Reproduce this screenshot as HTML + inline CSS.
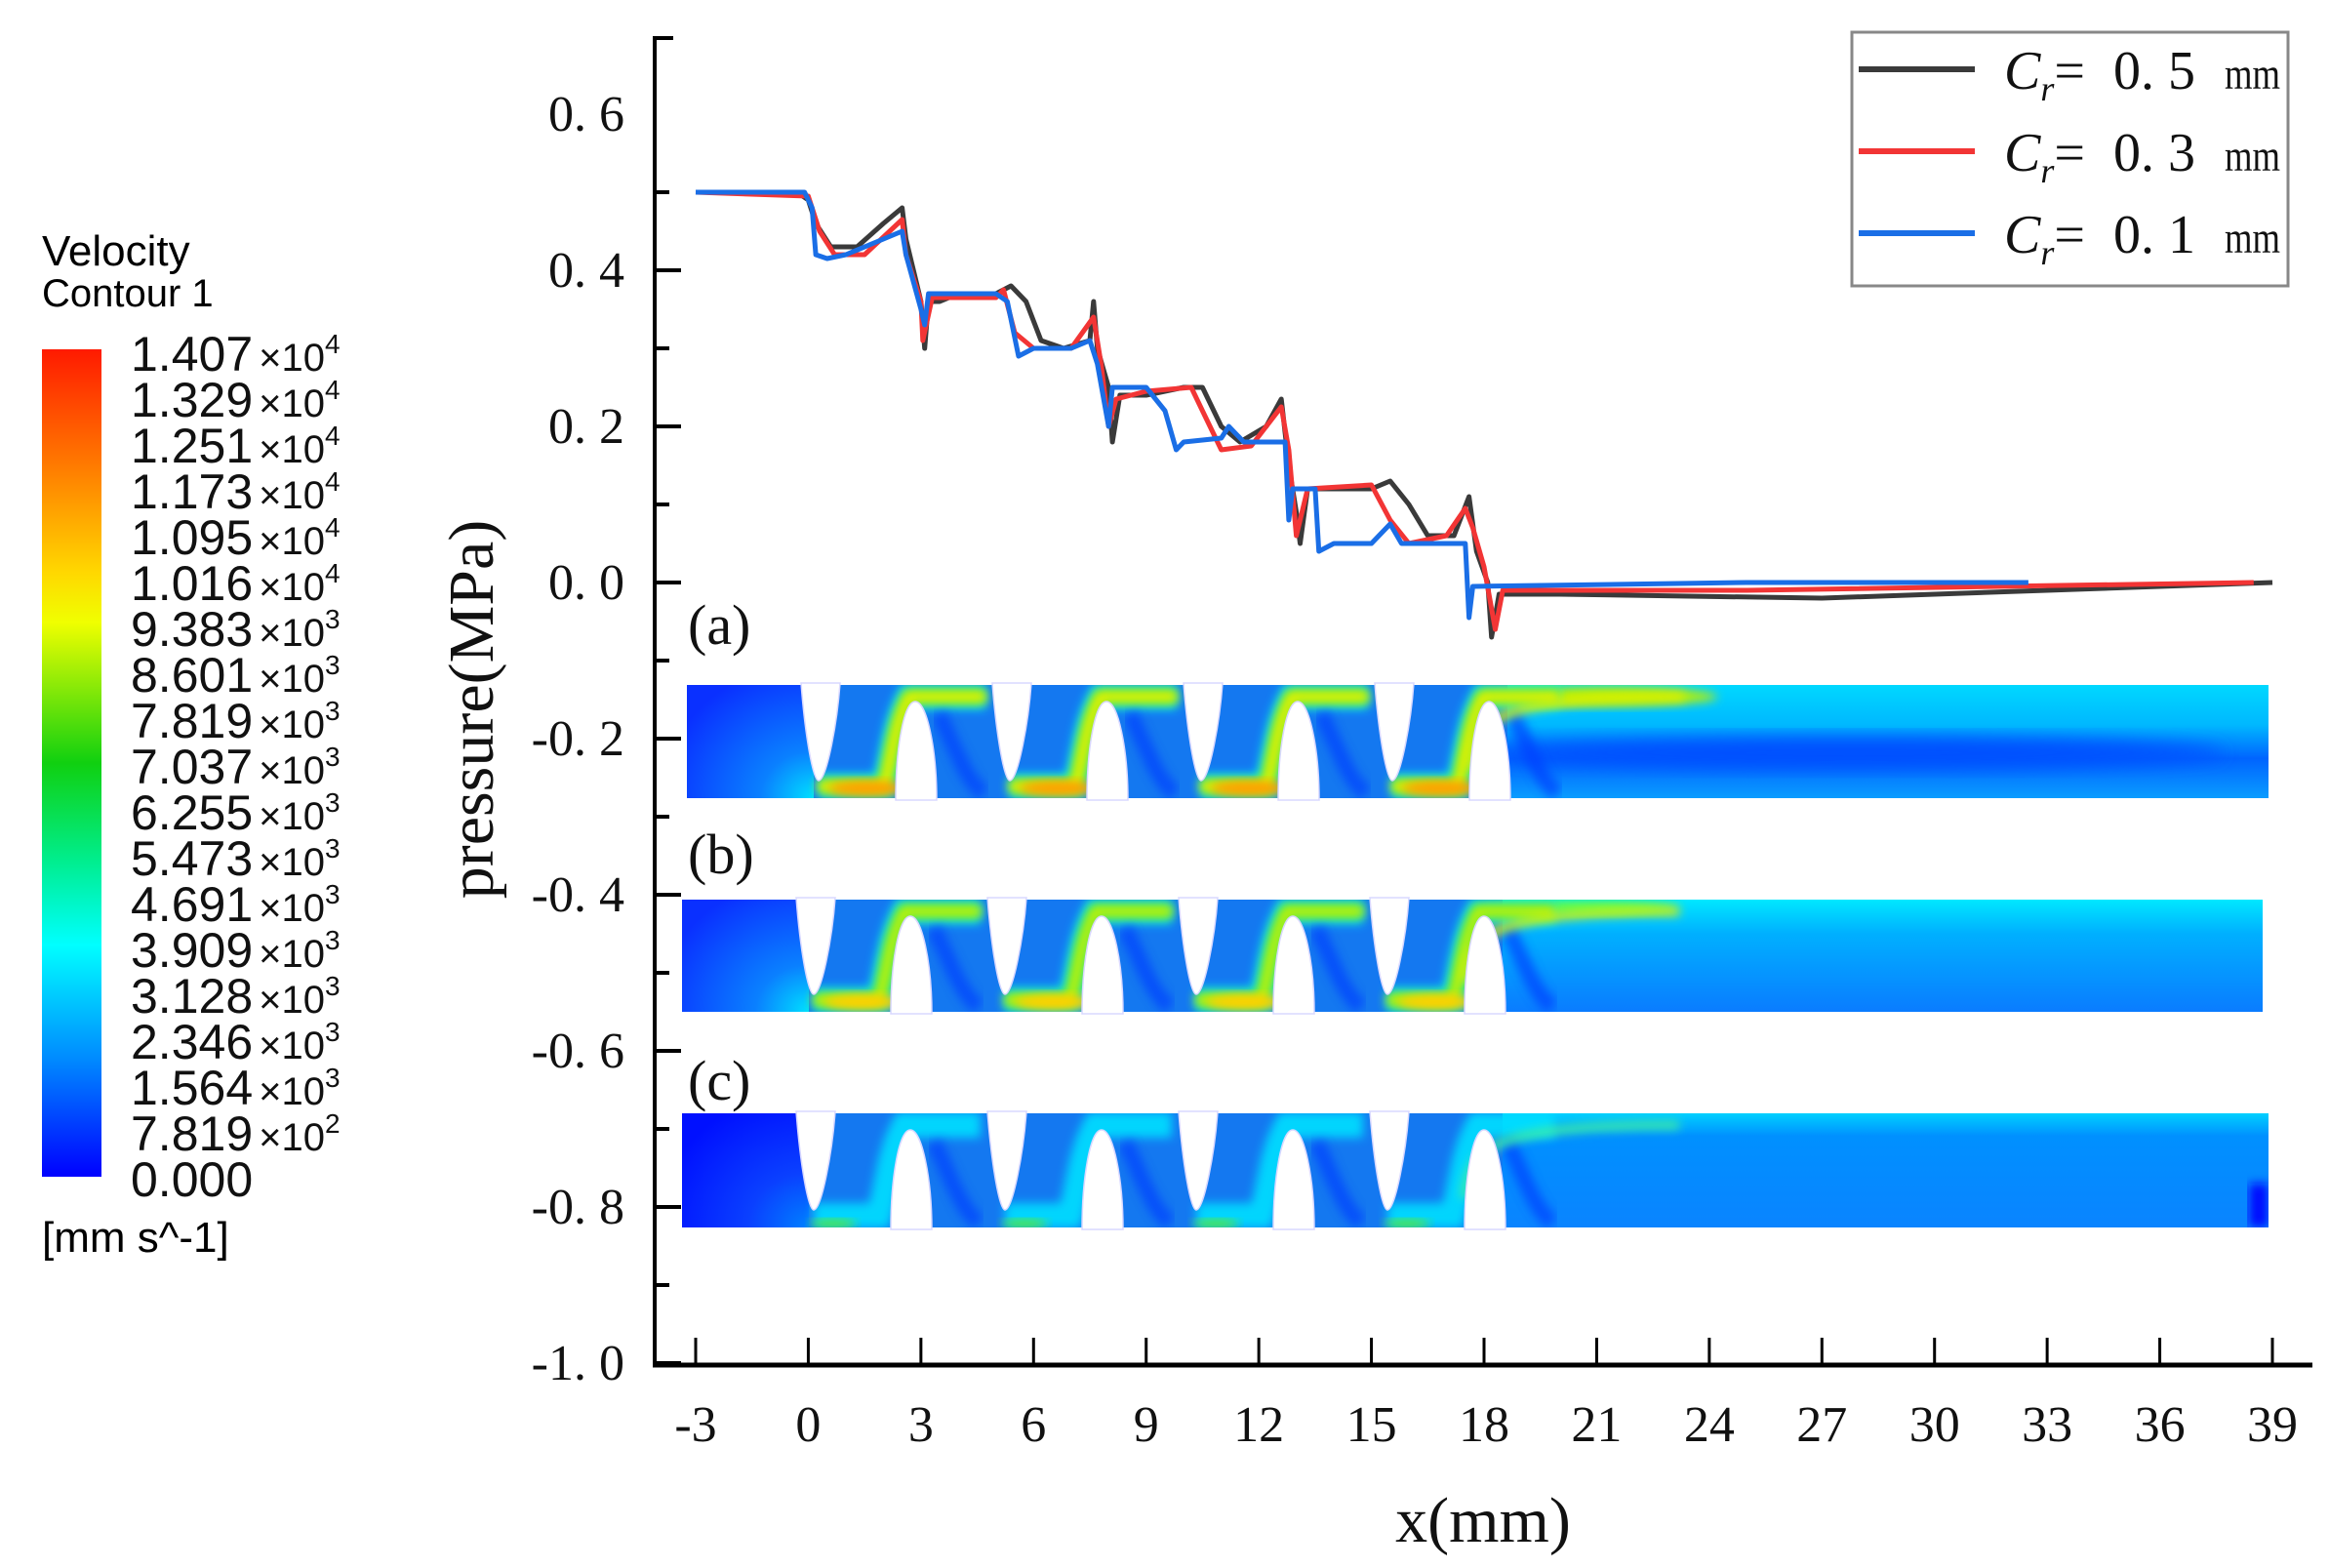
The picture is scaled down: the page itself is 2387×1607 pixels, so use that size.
<!DOCTYPE html>
<html><head><meta charset="utf-8">
<style>
html,body{margin:0;padding:0;background:#fff;}
svg{display:block;}
.ser{font-family:"Liberation Serif",serif;}
.san{font-family:"Liberation Sans",sans-serif;}
</style></head>
<body>
<svg id="fig" width="2387" height="1607" viewBox="0 0 2387 1607" xmlns="http://www.w3.org/2000/svg">
<defs>
  <linearGradient id="cbar" x1="0" y1="0" x2="0" y2="1">
    <stop offset="0" stop-color="#ff1a00"/>
    <stop offset="0.14" stop-color="#ff7a00"/>
    <stop offset="0.27" stop-color="#ffd800"/>
    <stop offset="0.33" stop-color="#f0ff00"/>
    <stop offset="0.5" stop-color="#10d010"/>
    <stop offset="0.62" stop-color="#00ee90"/>
    <stop offset="0.72" stop-color="#00ffff"/>
    <stop offset="0.86" stop-color="#0088ff"/>
    <stop offset="1" stop-color="#0000ff"/>
  </linearGradient>
  <linearGradient id="downA" x1="0" y1="0" x2="0" y2="1">
    <stop offset="0" stop-color="#00d8ff"/>
    <stop offset="0.35" stop-color="#00b8ff"/>
    <stop offset="0.65" stop-color="#0064ff"/>
    <stop offset="1" stop-color="#0a9cff"/>
  </linearGradient>
  <linearGradient id="downB" x1="0" y1="0" x2="0" y2="1">
    <stop offset="0" stop-color="#00e8ff"/>
    <stop offset="0.3" stop-color="#00b0ff"/>
    <stop offset="1" stop-color="#0a7cff"/>
  </linearGradient>
  <linearGradient id="downC" x1="0" y1="0" x2="0" y2="1">
    <stop offset="0" stop-color="#00d0ff"/>
    <stop offset="0.2" stop-color="#0090ff"/>
    <stop offset="1" stop-color="#0a84ff"/>
  </linearGradient>
  <radialGradient id="inlet" cx="1" cy="1" r="1.2">
    <stop offset="0" stop-color="#00e0ff"/>
    <stop offset="0.35" stop-color="#0a80ff"/>
    <stop offset="1" stop-color="#0a30ff"/>
  </radialGradient>
  <radialGradient id="inletC" cx="1" cy="1" r="1.2">
    <stop offset="0" stop-color="#0080ff"/>
    <stop offset="0.4" stop-color="#0a40ff"/>
    <stop offset="1" stop-color="#0010ff"/>
  </radialGradient>
  <filter id="blur" x="-10%" y="-30%" width="120%" height="160%"><feGaussianBlur stdDeviation="5"/></filter>
  <filter id="blur2" x="-10%" y="-30%" width="120%" height="160%"><feGaussianBlur stdDeviation="9"/></filter>
</defs>

<g>
  <text class="san" x="43" y="272" font-size="44">Velocity</text>
  <text class="san" x="43" y="314" font-size="40">Contour 1</text>
  <rect x="43" y="358" width="61" height="848" fill="url(#cbar)"/>
  <g id="cblabels"></g>
  <text class="san" x="43" y="1283" font-size="44">[mm s^-1]</text>
</g>

<g id="contours"></g>
<g id="chart"></g>

<g>
  <rect x="1898" y="33" width="447" height="260" fill="#fff" stroke="#888" stroke-width="3"/>
  <g id="legendRows"></g>
</g>
</svg>

<script>
// ---------- chart data ----------
const xTicks = [-3,0,3,6,9,12,15,18,21,24,27,30,33,36,39];
const yTicks = [0.6,0.4,0.2,0.0,-0.2,-0.4,-0.6,-0.8,-1.0];
const yTickLabels = ["0. 6","0. 4","0. 2","0. 0","-0. 2","-0. 4","-0. 6","-0. 8","-1. 0"];
const seriesNames = ["0. 5","0. 3","0. 1"];
const seriesColors = ["#3a3a3a","#f23535","#1a6ee6"];
const x05 = [-3,-0.3,0,0.2,0.6,1.3,2,2.5,2.6,3,3.1,3.2,3.5,4,5,5.4,5.8,6.2,6.8,7.5,7.6,7.7,8,8.1,8.3,9,10,10.5,11,11.5,12.2,12.6,12.8,13,13.1,13.3,14,15,15.5,16,16.5,17.2,17.6,17.8,18.1,18.2,18.4,20,27,33,39];
const y05 = [0.5,0.5,0.49,0.46,0.43,0.43,0.46,0.48,0.44,0.36,0.30,0.36,0.36,0.37,0.37,0.38,0.36,0.31,0.30,0.31,0.36,0.30,0.25,0.18,0.24,0.24,0.25,0.25,0.20,0.18,0.20,0.235,0.15,0.09,0.05,0.12,0.12,0.12,0.13,0.10,0.06,0.06,0.11,0.04,0.0,-0.07,-0.015,-0.015,-0.02,-0.01,0];
const x03 = [-3,0,0.3,0.7,1.5,2.5,2.6,3,3.05,3.3,5,5.2,5.5,6,7,7.6,7.8,8,8.2,9,10.2,10.5,11,11.8,12.6,12.8,13,13.3,15,15.5,16,17,17.5,17.7,18.0,18.3,18.5,25,38.5];
const y03 = [0.5,0.495,0.45,0.42,0.42,0.465,0.42,0.36,0.31,0.365,0.365,0.375,0.32,0.30,0.30,0.34,0.28,0.2,0.235,0.245,0.25,0.22,0.17,0.175,0.225,0.17,0.06,0.12,0.125,0.08,0.05,0.06,0.095,0.07,0.02,-0.06,-0.01,-0.01,0];
const x01 = [-3,-0.1,0.1,0.2,0.5,1,2,2.5,2.6,3,3.1,3.2,5,5.3,5.6,6,7,7.5,7.7,8,8.1,9,9.5,9.8,10,11,11.2,11.6,12.7,12.8,12.9,13.5,13.6,14,15,15.5,15.8,17.5,17.6,17.7,25,32.5];
const y01 = [0.5,0.5,0.48,0.42,0.415,0.42,0.44,0.45,0.42,0.35,0.33,0.37,0.37,0.36,0.29,0.30,0.30,0.31,0.28,0.2,0.25,0.25,0.22,0.17,0.18,0.185,0.20,0.18,0.18,0.08,0.12,0.12,0.04,0.05,0.05,0.075,0.05,0.05,-0.045,-0.005,0,0];

const NS = "http://www.w3.org/2000/svg";
function mk(tag, attrs, parent){const e=document.createElementNS(NS,tag);for(const k in attrs)e.setAttribute(k,attrs[k]);parent.appendChild(e);return e;}
const X = v => 713 + (v + 3) * (1616/42);
const Y = v => 597 - v * 800;

const chart = document.getElementById('chart');
const yAxis = mk('line',{x1:671,y1:37,x2:671,y2:1399,stroke:'#000','stroke-width':4},chart);


const xAxis = mk('line',{x1:669,y1:1399,x2:2370,y2:1399,stroke:'#000','stroke-width':5},chart);


mk('line',{x1:671,y1:39,x2:690,y2:39,stroke:'#000','stroke-width':4},chart);
for(let i=0;i<yTicks.length;i++){
  const y=Y(yTicks[i]);
  if(i>0){ const t=mk('line',{x1:671,y1:y,x2:698,y2:y,stroke:'#000','stroke-width':4},chart);
    
     }
  const lb=mk('text',{x:640,y:y+17,'text-anchor':'end','font-size':52,class:'ser',fill:'#111'},chart);
  lb.textContent=yTickLabels[i];
  
  
  if(i<yTicks.length-1){ const ym=Y(yTicks[i]-0.1);
    const m=mk('line',{x1:671,y1:ym,x2:686,y2:ym,stroke:'#000','stroke-width':4},chart);
    
     }
}
for(const v of xTicks){
  const x=X(v);
  const t=mk('line',{x1:x,y1:1399,x2:x,y2:1371,stroke:'#000','stroke-width':3},chart);
  
  
  const lb=mk('text',{x:x,y:1477,'text-anchor':'middle','font-size':52,class:'ser',fill:'#111'},chart);
  lb.textContent=String(v);
  
  
}
const xt=mk('text',{x:1520,y:1580,'text-anchor':'middle','font-size':66,class:'ser',fill:'#111'},chart);
xt.textContent='x(mm)';


const yt=mk('text',{x:0,y:0,'text-anchor':'middle','font-size':66,class:'ser',fill:'#111',transform:'translate(505,727) rotate(-90)'},chart);
yt.textContent='pressure(MPa)';



const allX=[x05,x03,x01], allY=[y05,y03,y01];
const seriesKeys=['series-cr-0-5','series-cr-0-3','series-cr-0-1'];
for(let s=0;s<3;s++){
  let d='';
  for(let i=0;i<allX[s].length;i++) d+=(i?'L':'M')+X(allX[s][i]).toFixed(1)+','+Y(allY[s][i]).toFixed(1);
  const p=mk('path',{d:d,fill:'none',stroke:seriesColors[s],'stroke-width':5,'stroke-linejoin':'round'},chart);
  
  
}

const lr=document.getElementById('legendRows');
for(let s=0;s<3;s++){
  const cy=71+s*84;
  const ln=mk('line',{x1:1905,y1:cy,x2:2024,y2:cy,stroke:seriesColors[s],'stroke-width':6},lr);
  
  
  const t=mk('text',{x:2054,y:cy+20,'font-size':56,class:'ser',fill:'#111'},lr);
  
  
  t.innerHTML='<tspan font-style="italic">C</tspan><tspan font-style="italic" font-size="36" dy="12">r</tspan><tspan dy="-12">= </tspan><tspan x="2166">0.</tspan><tspan x="2222">'+seriesNames[s].slice(-1)+'</tspan><tspan x="2280" font-size="46" textLength="57" lengthAdjust="spacingAndGlyphs">mm</tspan>';
}

const cbVals=["1.407","1.329","1.251","1.173","1.095","1.016","9.383","8.601","7.819","7.037","6.255","5.473","4.691","3.909","3.128","2.346","1.564","7.819","0.000"];
const cbExp=["4","4","4","4","4","4","3","3","3","3","3","3","3","3","3","3","3","2",""];
const cbl=document.getElementById('cblabels');
for(let i=0;i<cbVals.length;i++){
  const y=363+i*47+17;
  const t=mk('text',{x:134,y:y,'font-size':50,class:'san',fill:'#111'},cbl);
  
  
  t.innerHTML = cbExp[i] ? cbVals[i]+'<tspan font-size="40" dx="6">×10</tspan><tspan font-size="28" dy="-18">'+cbExp[i]+'</tspan>' : cbVals[i];
}

const panels=[
  {id:'a',left:704,top:702,bot:818,right:2325,grad:'url(#downA)',inlet:'url(#inlet)',lab:'(a)',ly:660,hot:1},
  {id:'b',left:699,top:922,bot:1037,right:2319,grad:'url(#downB)',inlet:'url(#inlet)',lab:'(b)',ly:895,hot:0.6},
  {id:'c',left:699,top:1141,bot:1258,right:2325,grad:'url(#downC)',inlet:'url(#inletC)',lab:'(c)',ly:1127,hot:0.15}
];
const cont=document.getElementById('contours');
panels.forEach((P,pi)=>{
  const g=mk('g',{},cont);
  
  
  const lab=mk('text',{x:705,y:P.ly,'font-size':58,class:'ser',fill:'#111'},g);
  lab.textContent=P.lab;
  
  
  const off=P.left-704;
  const cp=mk('clipPath',{id:'clip'+P.id},g);
  mk('rect',{x:P.left,y:P.top,width:P.right-P.left,height:P.bot-P.top},cp);
  const inner=mk('g',{'clip-path':'url(#clip'+P.id+')'},g);
  mk('rect',{x:P.left,y:P.top,width:P.right-P.left,height:P.bot-P.top,fill:'#1478f0'},inner);
  mk('rect',{x:P.left,y:P.top,width:130,height:P.bot-P.top,fill:P.inlet},inner);
  mk('rect',{x:1545+off,y:P.top,width:P.right-1545-off,height:P.bot-P.top,fill:P.grad},inner);
  const H=P.bot-P.top;
  if(pi===0){
    mk('ellipse',{cx:1900,cy:P.top+H*0.6,rx:380,ry:16,fill:'#0050ff',filter:'url(#blur2)'},inner);
    mk('ellipse',{cx:1640,cy:P.top+12,rx:120,ry:10,fill:'#b8f000',filter:'url(#blur)'},inner);
  }
  if(pi===1){ mk('ellipse',{cx:1620,cy:P.top+8,rx:100,ry:7,fill:'#60ff40',filter:'url(#blur)'},inner); }
  if(pi===2){ mk('rect',{x:P.right-20,y:P.bot-45,width:20,height:45,fill:'#0010ff',filter:'url(#blur)'},inner); }
  for(let k=0;k<4;k++){
    const tip=839+off+k*196;
    const bL=918+off+k*196, bTip=938+off+k*196;
    const d='M'+(tip)+','+(P.bot-12)+' L'+(bL-12)+','+(P.bot-12)+' C'+(bL-4)+','+(P.bot-40)+' '+(bTip-22)+','+(P.top+40)+' '+(bTip-6)+','+(P.top+12)+' L'+(bTip+72)+','+(P.top+12);
    const c1=['#00e8ff','#00e8ff','#00e0ff'][pi];
    mk('path',{d:d,fill:'none',stroke:c1,'stroke-width':26,filter:'url(#blur)',opacity:0.9},inner);
    if(P.hot>0.3){
      mk('path',{d:d,fill:'none',stroke:'#60f020','stroke-width':16,filter:'url(#blur)'},inner);
      mk('path',{d:d,fill:'none',stroke:'#f0f000','stroke-width':P.hot>0.8?10:6,filter:'url(#blur)'},inner);
      mk('ellipse',{cx:tip+50,cy:P.bot-10,rx:40,ry:8,fill:P.hot>0.8?'#ffa000':'#ffd000',filter:'url(#blur)'},inner);
    } else {
      mk('ellipse',{cx:tip+20,cy:P.bot-4,rx:24,ry:4,fill:'#60f020',filter:'url(#blur)'},inner);
    }
    mk('path',{d:'M'+(bL+44)+','+(P.top+30)+' C'+(bL+60)+','+(P.top+60)+' '+(bL+70)+','+(P.bot-20)+' '+(bL+90)+','+(P.bot-5),fill:'none',stroke:'#0040ff','stroke-width':16,filter:'url(#blur)',opacity:0.7},inner);
  }
  const lastB=938+off+3*196;
  mk('path',{d:'M'+(lastB-20)+','+(P.bot-30)+' C'+(lastB-14)+','+(P.top+40)+' '+(lastB-8)+','+(P.top+12)+' '+(lastB+200)+','+(P.top+12),fill:'none',stroke:P.hot>0.3?'#e0f000':'#40f0a0','stroke-width':8,filter:'url(#blur)'},inner);
  for(let k=0;k<4;k++){
    const tL=821+off+k*196, tR=861+off+k*196, tip=839+off+k*196, tipY=P.bot-18;
    const tooth=mk('path',{d:'M'+tL+','+(P.top-2)+' C'+(tL+4)+','+(P.top+50)+' '+(tip-6)+','+tipY+' '+tip+','+tipY+' C'+(tip+8)+','+tipY+' '+(tR-3)+','+(P.top+40)+' '+tR+','+(P.top-2)+' Z',fill:'#fff',stroke:'#d8d8ff','stroke-width':1.5},g);
    
    
    const bL=918+off+k*196, bR=960+off+k*196, bTip=938+off+k*196, bY=P.top+17;
    const bt=mk('path',{d:'M'+bL+','+(P.bot+2)+' C'+bL+','+(P.bot-50)+' '+(bTip-12)+','+bY+' '+bTip+','+bY+' C'+(bTip+12)+','+bY+' '+bR+','+(P.bot-50)+' '+bR+','+(P.bot+2)+' Z',fill:'#fff',stroke:'#d8d8ff','stroke-width':1.5},g);
    
    
  }
});
</script>
</body></html>
